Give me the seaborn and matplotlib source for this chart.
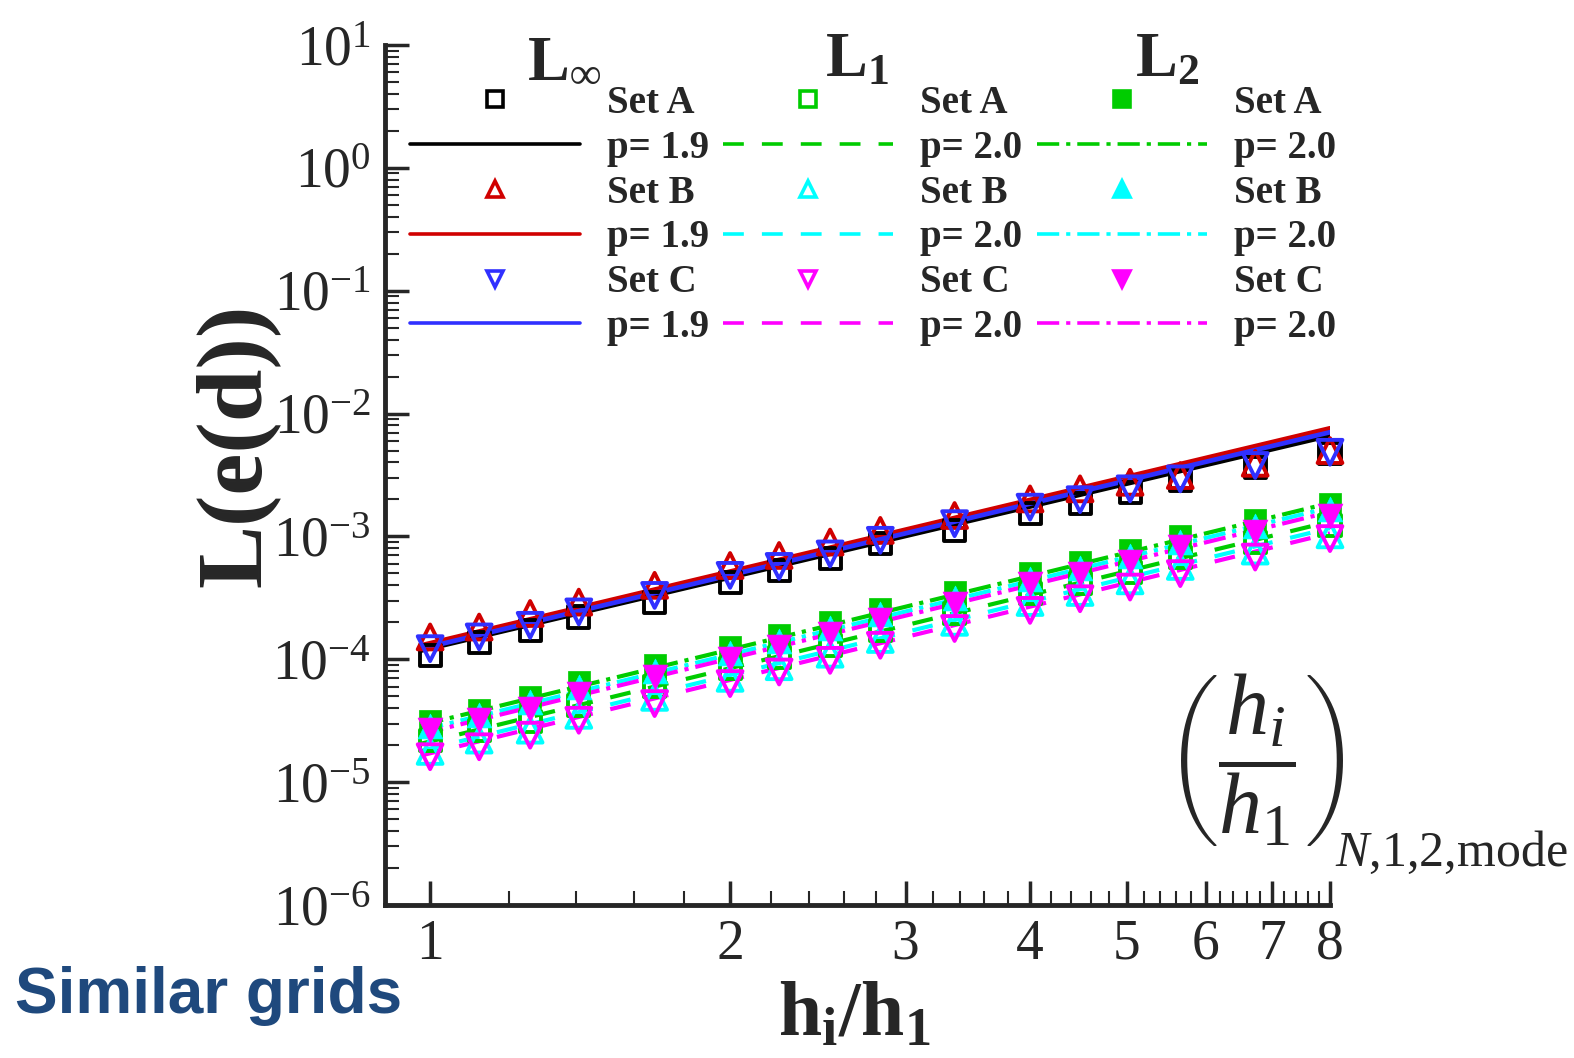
import matplotlib
matplotlib.use('Agg')
import matplotlib.pyplot as plt
import seaborn as sns
from matplotlib.lines import Line2D
from matplotlib.ticker import FixedLocator, FixedFormatter, MultipleLocator, NullFormatter, LogLocator

# grid refinement ratio h_i/h_1
h_ratio = [1, 1.12, 1.26, 1.41, 1.68, 2, 2.24, 2.52, 2.83, 3.36, 4, 4.49, 5.04, 5.66, 6.73, 8]

# L_inf norm of the error
linf_a = [1.08e-4, 1.36e-4, 1.72e-4, 2.21e-4, 2.92e-4, 4.25e-4, 5.3e-4, 6.59e-4,
          8.73e-4, 1.12e-3, 1.53e-3, 1.85e-3, 2.29e-3, 2.85e-3, 3.67e-3, 4.7e-3]
linf_b = [1.52e-4, 1.83e-4, 2.36e-4, 2.92e-4, 4.0e-4, 5.8e-4, 7.0e-4, 9.0e-4,
          1.12e-3, 1.48e-3, 2.02e-3, 2.44e-3, 2.76e-3, 3.13e-3, 3.94e-3, 5.0e-3]
linf_c = [1.22e-4, 1.52e-4, 1.89e-4, 2.43e-4, 3.31e-4, 4.82e-4, 5.7e-4, 7.2e-4,
          9.3e-4, 1.27e-3, 1.73e-3, 1.99e-3, 2.44e-3, 2.94e-3, 3.78e-3, 4.84e-3]

# L_1 norm
l1_a = [2.19e-5, 2.65e-5, 3.09e-5, 4.23e-5, 5.96e-5, 8.4e-5, 1.04e-4, 1.30e-4,
        1.72e-4, 2.36e-4, 3.42e-4, 4.12e-4, 5.13e-4, 6.79e-4, 9.0e-4, 1.23e-3]
l1_b = [1.78e-5, 2.2e-5, 2.65e-5, 3.5e-5, 4.9e-5, 7.0e-5, 8.7e-5, 1.1e-4,
        1.45e-4, 2.0e-4, 2.9e-4, 3.5e-4, 4.35e-4, 5.7e-4, 7.6e-4, 1.03e-3]
l1_c = [1.61e-5, 1.94e-5, 2.41e-5, 3.19e-5, 4.36e-5, 6.34e-5, 7.88e-5, 9.8e-5,
        1.30e-4, 1.78e-4, 2.5e-4, 3.11e-4, 3.87e-4, 4.98e-4, 6.79e-4, 9.6e-4]

# L_2 norm
l2_a = [3.15e-5, 3.9e-5, 4.94e-5, 6.53e-5, 8.93e-5, 1.26e-4, 1.57e-4, 2.01e-4,
        2.58e-4, 3.52e-4, 5.04e-4, 6.18e-4, 7.69e-4, 1.0e-3, 1.35e-3, 1.85e-3]
l2_b = [2.85e-5, 3.5e-5, 4.45e-5, 5.9e-5, 8.0e-5, 1.13e-4, 1.41e-4, 1.81e-4,
        2.32e-4, 3.17e-4, 4.5e-4, 5.55e-4, 6.9e-4, 9.0e-4, 1.21e-3, 1.66e-3]
l2_c = [2.68e-5, 3.19e-5, 3.97e-5, 5.26e-5, 7.18e-5, 1.01e-4, 1.26e-4, 1.62e-4,
        2.07e-4, 2.84e-4, 4.12e-4, 4.98e-4, 6.18e-4, 8.18e-4, 1.08e-3, 1.48e-3]

# fitted lines (end points)
fit_x = [0.98, 8]
fit_linf = {'A': [1.18e-4, 6.62e-3], 'B': [1.30e-4, 7.59e-3], 'C': [1.22e-4, 7.05e-3]}
fit_l1 = {'A': [2.06e-5, 1.32e-3], 'B': [1.8e-5, 1.17e-3], 'C': [1.65e-5, 1.06e-3]}
fit_l2 = {'A': [2.92e-5, 1.87e-3], 'B': [2.65e-5, 1.72e-3], 'C': [2.47e-5, 1.58e-3]}

orders = {'Linf': 'p= 1.9', 'L1': 'p= 2.0', 'L2': 'p= 2.0'}
x_ticks = [1, 2, 3, 4, 5, 6, 7, 8]

sns.set_style('ticks')
plt.rcParams['font.family'] = ['Liberation Serif', 'DejaVu Serif']
plt.rcParams['mathtext.fontset'] = 'custom'
plt.rcParams['mathtext.rm'] = 'Liberation Serif'
plt.rcParams['mathtext.it'] = 'Liberation Serif:italic'
plt.rcParams['mathtext.bf'] = 'Liberation Serif:bold'
plt.rcParams['lines.scale_dashes'] = False

dashed = (0, (15, 13))
dashdot = (0, (16, 5, 3, 5))

fig = plt.figure(figsize=(15.74, 10.58), dpi=100)
ax = fig.add_axes([385 / 1574, 1 - 905 / 1058, 945 / 1574, 860 / 1058])

series = [
    # data, fit, color, marker, filled, linestyle
    (linf_a, fit_linf['A'], 'black', 's', False, '-'),
    (linf_b, fit_linf['B'], '#d00000', '^', False, '-'),
    (linf_c, fit_linf['C'], '#3030ff', 'v', False, '-'),
    (l1_a, fit_l1['A'], '#00cc00', 's', False, dashed),
    (l1_b, fit_l1['B'], '#00ffff', '^', False, dashed),
    (l1_c, fit_l1['C'], '#ff00ff', 'v', False, dashed),
    (l2_a, fit_l2['A'], '#00cc00', 's', True, dashdot),
    (l2_b, fit_l2['B'], '#00ffff', '^', True, dashdot),
    (l2_c, fit_l2['C'], '#ff00ff', 'v', True, dashdot),
]

handles = []
labels = []
for i, (vals, fit, col, mk, filled, ls) in enumerate(series):
    lw = 3.4 if ls == '-' else 3.0
    sns.lineplot(x=fit_x, y=fit, color=col, linewidth=lw, linestyle=ls, ax=ax, legend=False)
    size = 230 if mk == 's' else 320
    if filled:
        sns.scatterplot(x=h_ratio, y=vals, marker=mk, color=col, edgecolor=col, s=size,
                        linewidth=0.5, ax=ax, legend=False, clip_on=False, zorder=3)
    else:
        sns.scatterplot(x=h_ratio, y=vals, marker=mk, facecolor='none', edgecolor=col, s=size,
                        linewidth=2.8, ax=ax, legend=False, clip_on=False, zorder=3)
    norm = ['Linf', 'L1', 'L2'][i // 3]
    handles.append(Line2D([], [], ls='none', marker=mk, markersize=11,
                          markerfacecolor=col if filled else 'none', markeredgecolor=col,
                          markeredgewidth=2.6))
    labels.append('Set ' + 'ABC'[i % 3])
    handles.append(Line2D([], [], color=col, linestyle=ls, linewidth=2.6))
    labels.append(orders[norm])

ax.set_xscale('log')
ax.set_yscale('log')
ax.set_xlim(0.901, 8.0)
ax.set_ylim(1e-6, 1e1)

ax.xaxis.set_major_locator(FixedLocator(x_ticks))
ax.xaxis.set_major_formatter(FixedFormatter([str(t) for t in x_ticks]))
ax.xaxis.set_minor_locator(MultipleLocator(0.2))
ax.xaxis.set_minor_formatter(NullFormatter())
ax.yaxis.set_major_locator(LogLocator(base=10, numticks=20))
ax.yaxis.set_minor_locator(LogLocator(base=10, subs=range(2, 10), numticks=20))

sns.despine(ax=ax)
for sp in ['left', 'bottom']:
    ax.spines[sp].set_linewidth(3.5)
ax.tick_params(which='major', direction='in', length=17, width=2.5, pad=10)
ax.tick_params(which='minor', direction='in', length=10, width=1.5)
ax.tick_params(axis='y', which='major', labelsize=40)
ax.tick_params(axis='x', which='major', labelsize=40, pad=10)

ax.set_xlabel(r'$\mathbf{h_i/h_1}$', fontsize=56)
ax.xaxis.set_label_coords(0.497, -0.088)
ax.set_ylabel('L(e(d))', fontsize=68, fontweight='bold')
ax.yaxis.set_label_coords(-0.112, 0.535)

# legend: 3 columns (L_inf, L_1, L_2)
leg = fig.legend(handles, labels, ncol=3, loc='upper left',
                 bbox_to_anchor=(410 / 1574, 1 - 85 / 1058), frameon=False,
                 prop={'family': 'Liberation Serif', 'weight': 'bold', 'size': 28},
                 handlelength=4.37, handletextpad=0.7, columnspacing=0.36,
                 labelspacing=0.2, borderpad=0, borderaxespad=0)

for xpos, txt in [(527, r'$\mathbf{L_\infty}$'), (825, r'$\mathbf{L_1}$'), (1135, r'$\mathbf{L_2}$')]:
    fig.text(xpos / 1574, 1 - 76 / 1058, txt, fontsize=45, va='baseline', ha='left')

fig.text(1255 / 1574, 1 - 760 / 1058, r'$\left(\dfrac{h_i}{h_1}\right)$', fontsize=62,
         ha='center', va='center')
fig.text(1335 / 1574, 1 - 866 / 1058, r'$N$,1,2,mode', fontsize=36, va='baseline', ha='left')

fig.text(15 / 1574, 1 - 1013 / 1058, 'Similar grids', fontsize=46, fontweight='bold',
         family='Liberation Sans', color='#1f497d', va='baseline', ha='left')

fig.savefig('out.png', dpi=100)
